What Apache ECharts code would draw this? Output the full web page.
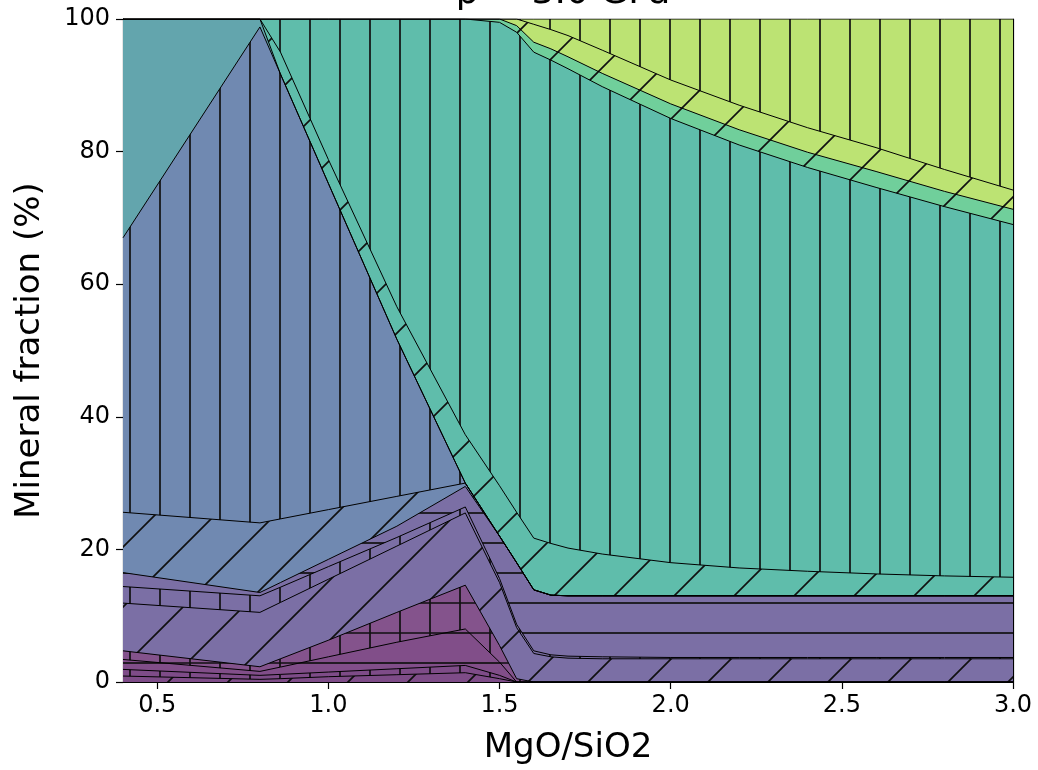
<!DOCTYPE html>
<html><head><meta charset="utf-8">
<script src="https://cdn.jsdelivr.net/npm/echarts@6/dist/echarts.min.js"></script>
<style>html,body{margin:0;padding:0;background:#fff}#c{width:1038px;height:770px}</style>
</head><body><div id="c"></div><script>
// MgO/SiO2 sample points
const xValues = [0.4, 0.8, 0.86, 1.0, 1.2, 1.4, 1.5, 1.55, 1.6, 1.65, 1.7, 1.8, 2.0, 2.2, 2.4, 2.6, 2.8, 3.0];
// mineral fractions (%) per phase, bottom to top
const phase1  = [0.9, 0.4, 0.5, 0.8, 1.1, 1.4, 0.5, 0, 0, 0, 0, 0, 0, 0, 0, 0, 0, 0];
const phase2  = [1.0, 0.6, 0.65, 0.7, 0.9, 1.1, 0.5, 0, 0, 0, 0, 0, 0, 0, 0, 0, 0, 0];
const phase3  = [1.5, 0.6, 1.1, 2.3, 4.0, 5.5, 2.0, 0, 0, 0, 0, 0, 0, 0, 0, 0, 0, 0];
const phase4  = [1.3, 0.7, 1.25, 2.5, 4.5, 6.6, 2.5, 0.5, 0, 0, 0, 0, 0, 0, 0, 0, 0, 0];
const phase5  = [7.2, 8.2, 8.5, 9.2, 10.0, 10.9, 9.5, 7.7, 4.3, 3.8, 3.6, 3.5, 3.5, 3.5, 3.5, 3.5, 3.5, 3.5];
const phase6  = [2.5, 2.5, 2.3, 1.9, 1.3, 0.9, 0.6, 0.5, 0.4, 0.3, 0.3, 0.3, 0.2, 0.2, 0.2, 0.2, 0.2, 0.2];
const phase7  = [2.1, 0.5, 0.7, 1.1, 1.7, 3.1, 6.4, 9.3, 9.2, 9.0, 9.1, 9.2, 9.3, 9.3, 9.3, 9.3, 9.3, 9.3];
const phase8  = [9.1, 10.5, 9.6, 7.5, 4.5, 0.5, 0, 0, 0, 0, 0, 0, 0, 0, 0, 0, 0, 0];
const phase9  = [41.4, 74.8, 67.1, 49.2, 23.7, 0, 0, 0, 0, 0, 0, 0, 0, 0, 0, 0, 0, 0];
const phase10 = [33.0, 1.2, 0, 0, 0, 0, 0, 0, 0, 0, 0, 0, 0, 0, 0, 0, 0, 0];
const phase11 = [0, 0, 3.3, 3.6, 4.9, 7.3, 7.6, 7.6, 7.8, 7.8, 7.2, 6.3, 5.0, 4.2, 3.7, 3.3, 3.0, 2.8];
const phase12 = [0, 0, 5.0, 21.2, 43.4, 62.7, 69.9, 72.4, 73.3, 72.9, 72.3, 70.5, 67.0, 63.8, 60.9, 58.3, 55.7, 53.2];
const phase13 = [0, 0, 0, 0, 0, 0, 0.5, 1.0, 1.5, 1.7, 1.8, 2.0, 2.2, 2.3, 2.3, 2.4, 2.3, 2.3];
const phase14 = [0, 0, 0, 0, 0, 0, 0, 1.0, 2.7, 2.9, 3.2, 3.5, 3.6, 3.7, 3.7, 3.6, 3.3, 2.9];
const phase15 = [0, 0, 0, 0, 0, 0, 0, 0, 0.8, 1.6, 2.5, 4.7, 9.2, 13.0, 16.4, 19.4, 22.7, 25.8];
const xTicks = [0.5, 1.0, 1.5, 2.0, 2.5, 3.0];

const phases = [phase1, phase2, phase3, phase4, phase5, phase6, phase7, phase8, phase9, phase10, phase11, phase12, phase13, phase14, phase15];
const colors = ['#7E4C88', '#7E4C88', '#814E89', '#84538C', '#7B6FA5', '#7B6FA5', '#7B6FA5', '#7089B1', '#7089B1', '#63A5AD', '#5FBDAB', '#5FBDAB', '#70CF9B', '#BCE373', '#BCE373'];
const hatches = ['/', '|', '-', '+', '/', '|', '-', '/', '|', '', '/', '|', '/', '/', '|'];

function makeTile(hatch, bg) {
  const size = hatch.indexOf('/') >= 0 ? 60 : 30;
  const c = document.createElement('canvas');
  c.width = size; c.height = size;
  const g = c.getContext('2d');
  g.fillStyle = bg; g.fillRect(0, 0, size, size);
  g.strokeStyle = '#111'; g.lineWidth = 1.7;
  g.beginPath();
  if (hatch.indexOf('|') >= 0 || hatch.indexOf('+') >= 0) { g.moveTo(10, -1); g.lineTo(10, size + 1); }
  if (hatch.indexOf('-') >= 0 || hatch.indexOf('+') >= 0) { g.moveTo(-1, 3); g.lineTo(size + 1, 3); }
  if (hatch.indexOf('/') >= 0) {
    [-50, 10, 70, 130].forEach(k => { g.moveTo(k + 10, -10); g.lineTo(k - 70, 70); });
  }
  g.stroke();
  return c;
}

const cum = [];
let running = xValues.map(() => 0);
phases.forEach(p => {
  running = running.map((v, i) => v + p[i]);
  cum.push(running.slice());
});

const series = [];
for (let k = phases.length - 1; k >= 0; k--) {
  series.push({
    type: 'line',
    name: 'phase' + (k + 1),
    data: xValues.map((x, i) => [x, Math.min(100, cum[k][i])]),
    symbol: 'none',
    showSymbol: false,
    lineStyle: { color: '#000', width: 1 },
    areaStyle: { color: { image: makeTile(hatches[k], colors[k]), repeat: 'repeat' }, opacity: 1 },
    emphasis: { disabled: true },
    silent: true,
    z: 2
  });
}

const chart = echarts.init(document.getElementById('c'), null, { renderer: 'canvas' });
const fontFamily = 'DejaVu Sans';
chart.setOption({
  animation: false,
  backgroundColor: '#fff',
  title: {
    text: 'p = 3.0 GPa', left: 558, top: -29, textAlign: 'center',
    textStyle: { fontFamily, fontSize: 36, fontWeight: 'normal', color: '#000' }
  },
  grid: { left: 123, right: 25, top: 19, bottom: 88, containLabel: false },
  xAxis: [{
    type: 'value', min: 0.4, max: 3.0, position: 'bottom',
    name: 'MgO/SiO2', nameLocation: 'middle', nameGap: 49,
    nameTextStyle: { fontFamily, fontSize: 34, color: '#000' },
    axisLine: { show: true, onZero: false, lineStyle: { color: '#000', width: 1.2 } },
    axisTick: { show: true, customValues: xTicks, length: 7, lineStyle: { color: '#000', width: 1.2 } },
    axisLabel: { customValues: xTicks, fontFamily, fontSize: 24, color: '#000', margin: 12, formatter: v => v.toFixed(1) },
    splitLine: { show: false }
  }, {
    type: 'value', min: 0.4, max: 3.0, position: 'top',
    axisLine: { show: true, onZero: false, lineStyle: { color: '#000', width: 1.2 } },
    axisTick: { show: false }, axisLabel: { show: false }, splitLine: { show: false }
  }],
  yAxis: [{
    type: 'value', min: 0, max: 100, interval: 20,
    name: 'Mineral fraction (%)', nameLocation: 'middle', nameGap: 76, nameRotate: 90,
    nameTextStyle: { fontFamily, fontSize: 34, color: '#000' },
    axisLine: { show: true, onZero: false, lineStyle: { color: '#000', width: 1.2 } },
    axisTick: { show: true, length: 7, lineStyle: { color: '#000', width: 1.2 } },
    axisLabel: { fontFamily, fontSize: 24, color: '#000', margin: 13 },
    splitLine: { show: false }
  }, {
    type: 'value', min: 0, max: 100, position: 'right',
    axisLine: { show: true, onZero: false, lineStyle: { color: '#000', width: 1.2 } },
    axisTick: { show: false }, axisLabel: { show: false }, splitLine: { show: false }
  }],
  series
});
</script></body></html>
